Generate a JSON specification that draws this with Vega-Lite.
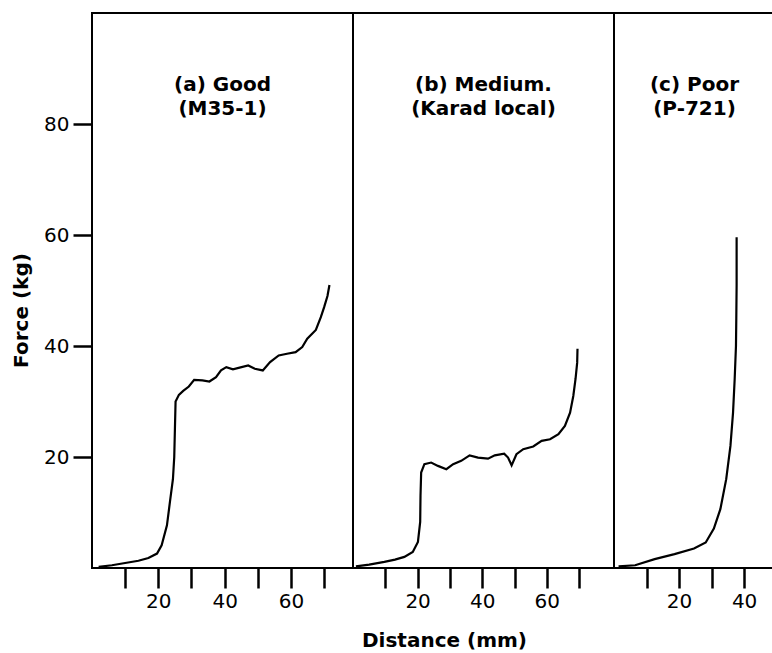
{
  "$schema": "https://vega.github.io/schema/vega-lite/v6.json",
  "padding": {"left": 10, "top": 12, "right": 0, "bottom": 0},
  "background": "white",
  "spacing": 0,
  "bounds": "flush",
  "config": {
    "view": {"stroke": "black", "strokeWidth": 2},
    "font": "DejaVu Sans",
    "axis": {
      "domain": false, "grid": false,
      "tickColor": "black", "tickWidth": 2.5,
      "labelColor": "black", "labelFont": "DejaVu Sans", "labelFontSize": 20, "labelFontWeight": "normal",
      "labelOverlap": false, "labelFlush": false,
      "titleFont": "DejaVu Sans", "titleFontSize": 20, "titleFontWeight": "bold", "titleColor": "black"
    },
    "title": {"font": "DejaVu Sans", "fontSize": 20, "fontWeight": "bold", "color": "black", "anchor": "middle", "baseline": "top", "offset": -106, "lineHeight": 24}
  },
  "datasets": {
    "a": [
      {"d": 2, "f": 0.2}, {"d": 6, "f": 0.5}, {"d": 10, "f": 0.9}, {"d": 14, "f": 1.3}, {"d": 17, "f": 1.8},
      {"d": 19.6, "f": 2.6}, {"d": 21, "f": 4.1}, {"d": 22.6, "f": 7.7}, {"d": 23.5, "f": 11.9}, {"d": 24.4, "f": 16},
      {"d": 24.8, "f": 20}, {"d": 25, "f": 25}, {"d": 25.2, "f": 30}, {"d": 26.2, "f": 31.2}, {"d": 27.5, "f": 31.9},
      {"d": 29.2, "f": 32.7}, {"d": 30.8, "f": 33.9}, {"d": 33.3, "f": 33.8}, {"d": 35.4, "f": 33.6}, {"d": 37.4, "f": 34.4},
      {"d": 38.9, "f": 35.6}, {"d": 40.5, "f": 36.2}, {"d": 42.5, "f": 35.8}, {"d": 44.5, "f": 36.1}, {"d": 47.1, "f": 36.5},
      {"d": 49.1, "f": 35.9}, {"d": 51.5, "f": 35.6}, {"d": 53.7, "f": 37.1}, {"d": 56.3, "f": 38.3}, {"d": 58.8, "f": 38.6},
      {"d": 61.4, "f": 38.9}, {"d": 63.4, "f": 39.8}, {"d": 64.9, "f": 41.3}, {"d": 67.5, "f": 42.9}, {"d": 69, "f": 45.2},
      {"d": 70, "f": 47}, {"d": 71, "f": 49}, {"d": 71.6, "f": 51}
    ],
    "b": [
      {"d": 0.9, "f": 0.3}, {"d": 5, "f": 0.6}, {"d": 9.7, "f": 1.1}, {"d": 13, "f": 1.5}, {"d": 15.9, "f": 2},
      {"d": 18.5, "f": 2.9}, {"d": 20.1, "f": 4.7}, {"d": 20.8, "f": 8.3}, {"d": 20.9, "f": 13}, {"d": 21.1, "f": 17.2},
      {"d": 22.1, "f": 18.7}, {"d": 24.2, "f": 19}, {"d": 26.3, "f": 18.4}, {"d": 28.9, "f": 17.8}, {"d": 31, "f": 18.7},
      {"d": 33.5, "f": 19.3}, {"d": 36.1, "f": 20.3}, {"d": 38.7, "f": 19.9}, {"d": 41.8, "f": 19.7}, {"d": 43.9, "f": 20.3},
      {"d": 46.8, "f": 20.6}, {"d": 48, "f": 19.9}, {"d": 49.1, "f": 18.5}, {"d": 50.6, "f": 20.5}, {"d": 52.7, "f": 21.4},
      {"d": 55.8, "f": 21.9}, {"d": 58.4, "f": 22.9}, {"d": 61, "f": 23.2}, {"d": 63.6, "f": 24.1}, {"d": 65.6, "f": 25.6},
      {"d": 67.2, "f": 28}, {"d": 68.2, "f": 31}, {"d": 68.9, "f": 34.1}, {"d": 69.4, "f": 37}, {"d": 69.5, "f": 39.5}
    ],
    "c": [
      {"d": 1.4, "f": 0.3}, {"d": 6.5, "f": 0.5}, {"d": 12.5, "f": 1.6}, {"d": 18.6, "f": 2.5}, {"d": 24.6, "f": 3.5},
      {"d": 28.2, "f": 4.6}, {"d": 30.7, "f": 7.1}, {"d": 32.7, "f": 10.6}, {"d": 34.5, "f": 16}, {"d": 35.8, "f": 22},
      {"d": 36.6, "f": 28}, {"d": 37.1, "f": 34}, {"d": 37.5, "f": 40}, {"d": 37.6, "f": 45}, {"d": 37.7, "f": 51},
      {"d": 37.7, "f": 59.6}
    ]
  },
  "hconcat": [
    {
      "width": 261, "height": 555,
      "data": {"name": "a"},
      "title": {"text": ["(a) Good", "(M35-1)"]},
      "mark": {"type": "line", "color": "black", "strokeWidth": 2.2},
      "encoding": {
        "x": {"field": "d", "type": "quantitative", "scale": {"domain": [0, 78.7], "nice": false},
          "axis": {"values": [10, 20, 30, 40, 50, 60, 70], "tickSize": 20, "labelPadding": 3, "labelExpr": "datum.value % 20 == 0 ? datum.label : ''", "title": null}},
        "y": {"field": "f", "type": "quantitative", "scale": {"domain": [0, 100], "nice": false},
          "axis": {"values": [20, 40, 60, 80], "tickSize": 19, "labelPadding": 4, "title": "Force (kg)", "titleX": -71, "titleY": 297, "titleBaseline": "middle", "titleAlign": "center", "titleAngle": -90}}
      }
    },
    {
      "width": 261, "height": 555,
      "data": {"name": "b"},
      "title": {"text": ["(b) Medium.", "(Karad local)"]},
      "mark": {"type": "line", "color": "black", "strokeWidth": 2.2},
      "encoding": {
        "x": {"field": "d", "type": "quantitative", "scale": {"domain": [0, 80.8], "nice": false},
          "axis": {"values": [10, 20, 30, 40, 50, 60, 70], "tickSize": 20, "labelPadding": 3, "labelExpr": "datum.value % 20 == 0 ? datum.label : ''",
            "title": "Distance (mm)", "titleX": 91, "titleY": 78, "titleAlign": "center", "titleBaseline": "alphabetic", "titleAnchor": null}},
        "y": {"field": "f", "type": "quantitative", "scale": {"domain": [0, 100], "nice": false}, "axis": null}
      }
    },
    {
      "width": 161, "height": 555,
      "data": {"name": "c"},
      "title": {"text": ["(c) Poor", "(P-721)"]},
      "mark": {"type": "line", "color": "black", "strokeWidth": 2.2},
      "encoding": {
        "x": {"field": "d", "type": "quantitative", "scale": {"domain": [0, 49.5], "nice": false},
          "axis": {"values": [10, 20, 30, 40], "tickSize": 20, "labelPadding": 3, "labelExpr": "datum.value % 20 == 0 ? datum.label : ''", "title": null}},
        "y": {"field": "f", "type": "quantitative", "scale": {"domain": [0, 100], "nice": false}, "axis": null}
      }
    }
  ]
}
